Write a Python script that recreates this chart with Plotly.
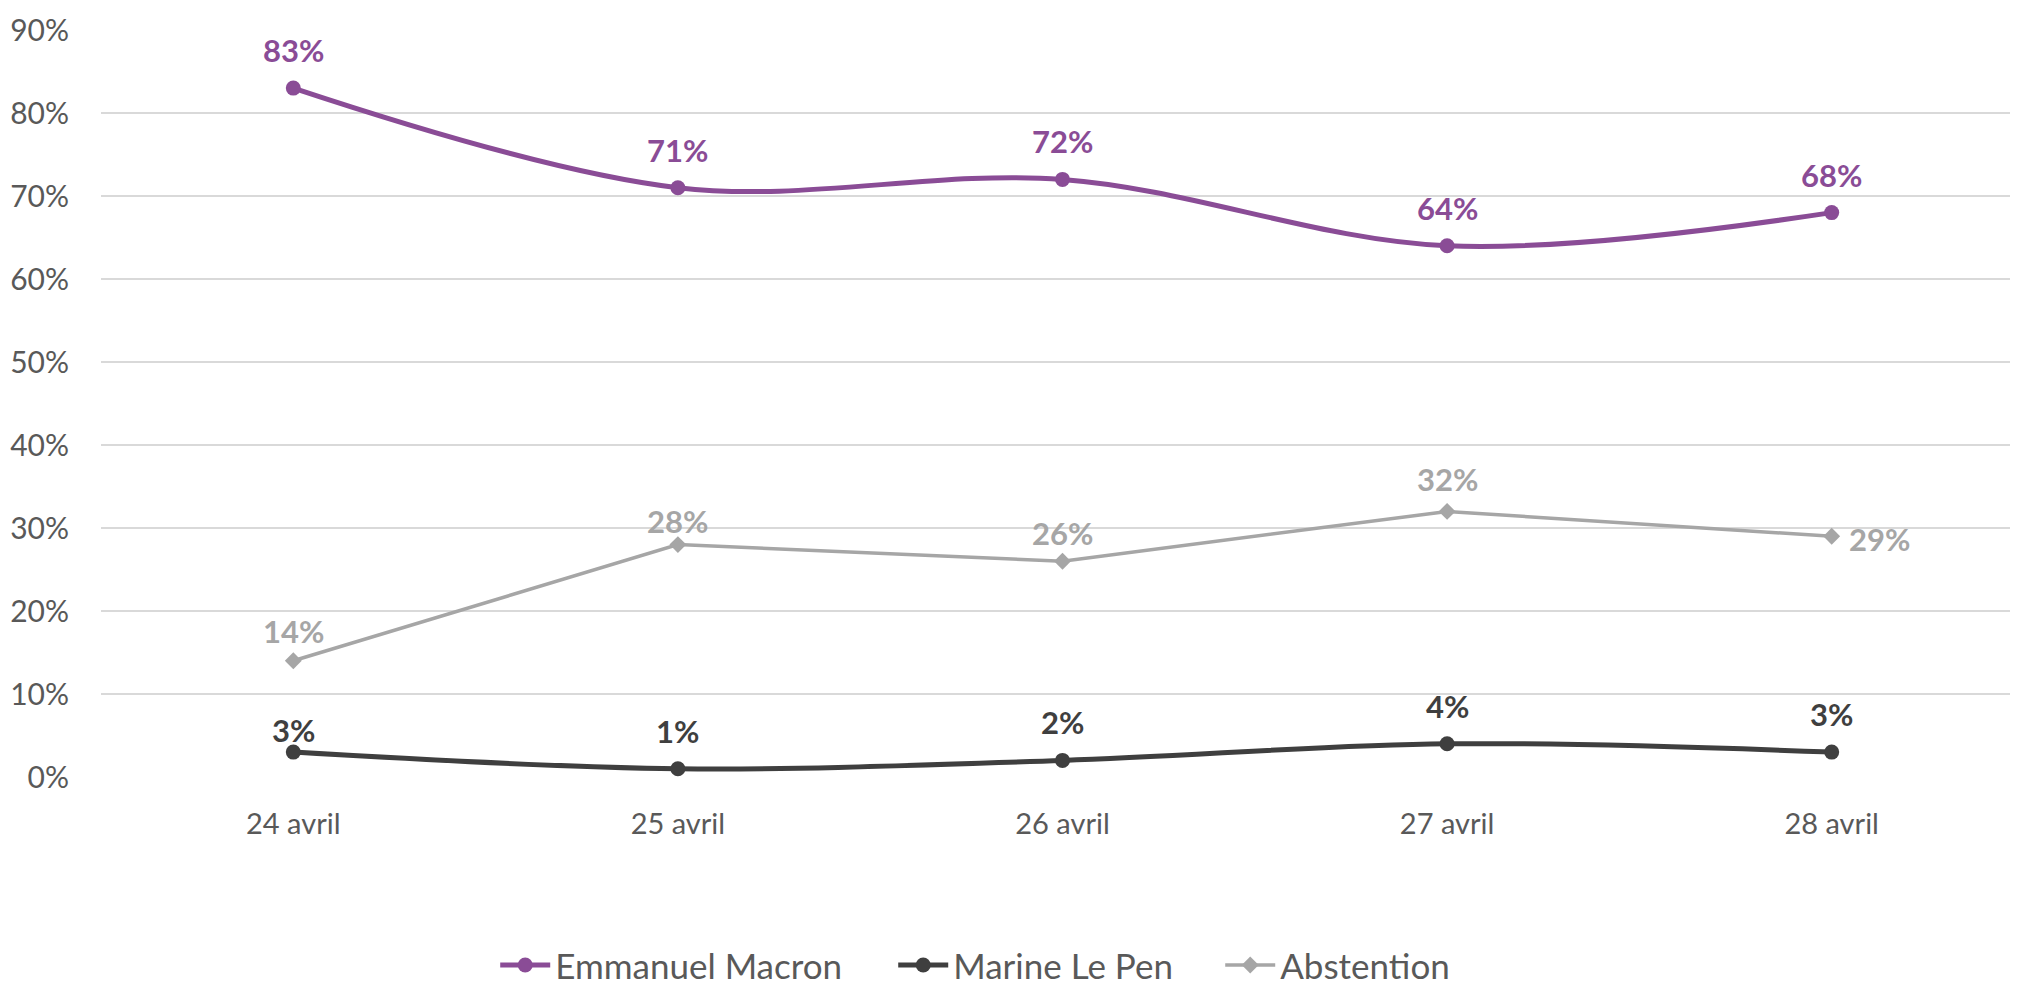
import plotly.graph_objects as go

dates = ["24 avril", "25 avril", "26 avril", "27 avril", "28 avril"]
macron = [83, 71, 72, 64, 68]
le_pen = [3, 1, 2, 4, 3]
abstention = [14, 28, 26, 32, 29]
y_ticks = [0, 10, 20, 30, 40, 50, 60, 70, 80, 90]

C_MACRON = "#8A4C96"
C_LEPEN = "#3F3F3F"
C_ABST = "#A6A6A6"
FONT = "Lato, 'Open Sans', sans-serif"

fig = go.Figure()
fig.add_trace(go.Scatter(
    x=dates, y=macron, name="Emmanuel Macron", mode="lines+markers",
    line=dict(color=C_MACRON, width=5, shape="spline", smoothing=1),
    marker=dict(symbol="circle", size=15, color=C_MACRON),
    legendwidth=333,
))
fig.add_trace(go.Scatter(
    x=dates, y=le_pen, name="Marine Le Pen", mode="lines+markers",
    line=dict(color=C_LEPEN, width=5, shape="spline", smoothing=1),
    marker=dict(symbol="circle", size=15, color=C_LEPEN),
    legendwidth=262,
))
fig.add_trace(go.Scatter(
    x=dates, y=abstention, name="Abstention", mode="lines+markers",
    line=dict(color=C_ABST, width=3.5),
    marker=dict(symbol="diamond", size=13, color=C_ABST),
))

# data labels (style offsets in px)
macron_shift = [38, 38, 38, 38, 38]
lepen_shift = [22, 38, 38, 38, 38]
abst_shift = [(0, 30), (0, 24), (0, 28), (0, 32), (48, -3)]

annotations = []
for d, v, s in zip(dates, macron, macron_shift):
    annotations.append(dict(x=d, y=v, xref="x", yref="y", text=f"{v}%", showarrow=False,
                            yshift=s, font=dict(family=FONT, size=31, color=C_MACRON, weight="bold")))
for d, v, s in zip(dates, le_pen, lepen_shift):
    annotations.append(dict(x=d, y=v, xref="x", yref="y", text=f"{v}%", showarrow=False,
                            yshift=s, font=dict(family=FONT, size=31, color=C_LEPEN, weight="bold")))
for d, v, (xs, ys) in zip(dates, abstention, abst_shift):
    annotations.append(dict(x=d, y=v, xref="x", yref="y", text=f"{v}%", showarrow=False,
                            xshift=xs, yshift=ys, font=dict(family=FONT, size=31, color=C_ABST, weight="bold")))

fig.update_layout(
    width=2018, height=989,
    margin=dict(l=92, r=2, t=19, b=205),
    paper_bgcolor="white", plot_bgcolor="white",
    font=dict(family=FONT, color="#595959"),
    annotations=annotations,
    showlegend=True,
    legend=dict(orientation="h", x=0.205, xanchor="left", y=-0.252, yanchor="middle",
                font=dict(family=FONT, size=35), itemwidth=50,
                bgcolor="rgba(0,0,0,0)"),
)
fig.update_xaxes(
    type="category", range=[-0.5, 4.5], showgrid=False, showline=False, zeroline=False,
    ticks="", ticklabelstandoff=27, tickfont=dict(family=FONT, size=29, color="#595959"),
)
fig.update_yaxes(
    range=[0, 90], tickvals=y_ticks, ticktext=[f"{t}%" for t in y_ticks],
    showgrid=True, gridcolor="#D9D9D9", gridwidth=1.5, zeroline=False, showline=False,
    ticks="", ticklabelstandoff=31, ticklabeloverflow="allow",
    tickfont=dict(family=FONT, size=30, color="#595959"),
)

fig.write_html("out.html")
